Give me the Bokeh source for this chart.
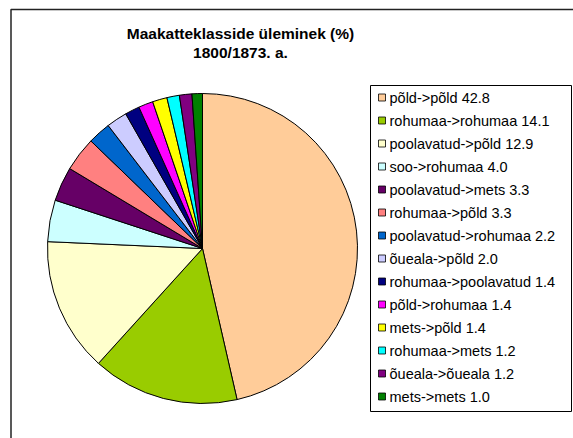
import numpy as np
from bokeh.plotting import figure
from bokeh.models import Range1d
from bokeh.embed import file_html
from bokeh.resources import INLINE
from bokeh.core.properties import value

# ---- data ----
categories = ["põld->põld", "rohumaa->rohumaa", "poolavatud->põld", "soo->rohumaa",
              "poolavatud->mets", "rohumaa->põld", "poolavatud->rohumaa", "õueala->põld",
              "rohumaa->poolavatud", "põld->rohumaa", "mets->põld", "rohumaa->mets",
              "õueala->õueala", "mets->mets"]
values = [42.8, 14.1, 12.9, 4.0, 3.3, 3.3, 2.2, 2.0, 1.4, 1.4, 1.4, 1.2, 1.2, 1.0]
colors = ["#FFCC99", "#99CC00", "#FFFFCC", "#CCFFFF", "#660066", "#FF8080", "#0066CC",
          "#CCCCFF", "#000080", "#FF00FF", "#FFFF00", "#00FFFF", "#800080", "#008000"]
title_lines = ["Maakatteklasside üleminek (%)", "1800/1873. a."]

# ---- layout (picture pixel coordinates) ----
W, H = 573, 438
def Y(py):
    return H - py

p = figure(width=W, height=H, output_backend="svg", toolbar_location=None,
           x_range=Range1d(0, W), y_range=Range1d(0, H),
           min_border=0, min_border_left=0, min_border_right=0,
           min_border_top=0, min_border_bottom=0)
p.axis.visible = False
p.grid.visible = False
p.outline_line_color = None
p.background_fill_color = "white"
p.border_fill_color = "white"

FONT = value("Liberation Sans")

# outer chart frame
p.line(x=[10.5, 10.5, 600], y=[Y(460), Y(9), Y(9)], line_color="#222222", line_width=1.5)

# title
p.text(x=[240, 240], y=[Y(33), Y(52)], text=title_lines, text_align="center",
       text_baseline="middle", text_font=FONT, text_font_style="bold",
       text_font_size="15.5px", text_color="black")

# pie
total = float(sum(values))
frac = np.array(values) / total
cum = np.concatenate([[0.0], np.cumsum(frac)])
start = np.pi / 2 - 2 * np.pi * cum[:-1]
end = np.pi / 2 - 2 * np.pi * cum[1:]
p.wedge(x=202, y=Y(248), radius=155, start_angle=start, end_angle=end,
        direction="clock", fill_color=colors, line_color="black", line_width=1)

# legend box
p.quad(left=[370], right=[571], top=[Y(85)], bottom=[Y(411)], fill_color="white",
       line_color="black", line_width=1)

labels = [f"{c} {v:.1f}" for c, v in zip(categories, values)]
ly = [Y(97 + 23 * i) for i in range(len(labels))]
p.rect(x=[381.5] * len(labels), y=ly, width=7, height=7, fill_color=colors,
       line_color="black", line_width=0.8)
p.text(x=[389] * len(labels), y=ly, text=labels, text_align="left",
       text_baseline="middle", text_font=FONT, text_font_size="14.5px",
       text_color="black")

open("out.html", "w").write(file_html(p, INLINE))
